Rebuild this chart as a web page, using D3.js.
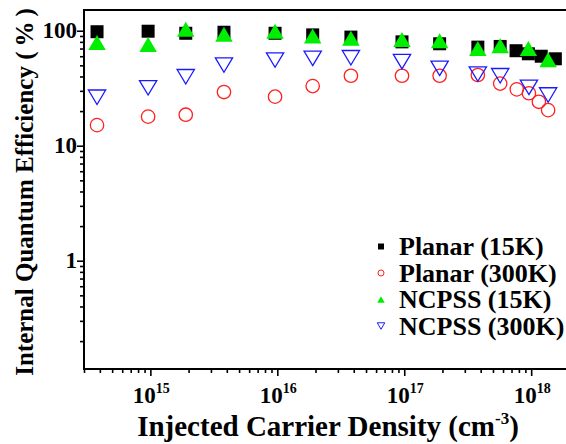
<!DOCTYPE html>
<html>
<head>
<meta charset="utf-8">
<script src="https://cdn.jsdelivr.net/npm/d3@7"></script>
<style>
  body { margin: 0; background: #fff; }
  svg text { font-family: "Liberation Serif", "Times New Roman", serif; font-weight: bold; fill: #000; }
</style>
</head>
<body>
<svg id="chart" width="566" height="444"></svg>
<script>
// Internal quantum efficiency vs injected carrier density
const seriesNames = ["Planar (15K)", "Planar (300K)", "NCPSS (15K)", "NCPSS (300K)"];

const planar15K_n   = [3.8e14, 9.6e14, 1.9e15, 3.8e15, 9.6e15, 1.9e16, 3.8e16, 9.6e16, 1.9e17, 3.8e17, 5.7e17, 7.6e17, 9.5e17, 1.2e18, 1.55e18];
const planar15K_iqe = [98, 99, 95, 97, 95, 92, 88, 80, 77, 72, 73, 67, 63, 60, 57];

const planar300K_n   = [3.8e14, 9.6e14, 1.9e15, 3.8e15, 9.6e15, 1.9e16, 3.8e16, 9.6e16, 1.9e17, 3.8e17, 5.7e17, 7.7e17, 9.6e17, 1.15e18, 1.36e18];
const planar300K_iqe = [15.1, 17.9, 18.6, 29.3, 26.7, 33.0, 40.6, 40.6, 40.6, 41.2, 34.7, 30.9, 28.6, 24.1, 20.4];

const ncpss15K_n   = [3.8e14, 9.6e14, 1.9e15, 3.8e15, 9.6e15, 1.9e16, 3.8e16, 9.6e16, 1.9e17, 3.8e17, 5.7e17, 9.5e17, 1.36e18];
const ncpss15K_iqe = [79, 76, 103, 93, 99, 90, 86, 84, 82, 70, 74, 70, 56];

const ncpss300K_n   = [3.8e14, 9.6e14, 1.9e15, 3.8e15, 9.6e15, 1.9e16, 3.8e16, 9.6e16, 1.9e17, 3.8e17, 5.7e17, 9.6e17, 1.36e18];
const ncpss300K_iqe = [26.4, 31.9, 39.8, 50.3, 55.6, 57.5, 58.2, 53.8, 47.1, 42.0, 40.6, 32.2, 27.6];

const xMajorExponents = [15, 16, 17, 18];
const yMajorLabels = ["1", "10", "100"];

const svg = d3.select("#chart");
const L = 84, R = 568, T = 10, B = 369;

const x = d3.scaleLog().domain([3e14, 1.95e18]).range([L, R]);
const y = d3.scaleLog().domain([0.1144, 151.4]).range([B, T]);

// marker shapes, centred on their bounding boxes
const shapes = {
  square: s => `M${-s/2},${-s/2}h${s}v${s}h${-s}Z`,
  triUp: (w, h) => `M0,${-h/2}L${w/2},${h/2}L${-w/2},${h/2}Z`,
  triDown: (w, h) => `M0,${h/2}L${w/2},${-h/2}L${-w/2},${-h/2}Z`
};

const series = [
  { n: planar15K_n, v: planar15K_iqe, kind: "square", color: "#000" },
  { n: planar300K_n, v: planar300K_iqe, kind: "circle", color: "#ff2020" },
  { n: ncpss15K_n, v: ncpss15K_iqe, kind: "triUp", color: "#00ee00" },
  { n: ncpss300K_n, v: ncpss300K_iqe, kind: "triDown", color: "#1a1aff" }
];

function drawMarker(g, kind, color, big) {
  if (kind === "square") {
    g.append("path").attr("d", shapes.square(big ? 13 : 6)).attr("fill", color);
  } else if (kind === "circle") {
    g.append("circle").attr("r", big ? 6.7 : 3).attr("fill", "none")
      .attr("stroke", color).attr("stroke-width", big ? 1.3 : 1);
  } else if (kind === "triUp") {
    g.append("path").attr("d", big ? shapes.triUp(17.5, 15) : shapes.triUp(7.5, 6.5)).attr("fill", color);
  } else {
    g.append("path").attr("d", big ? shapes.triDown(17.3, 14.5) : shapes.triDown(7.5, 6.5))
      .attr("fill", "none").attr("stroke", color).attr("stroke-width", big ? 1.3 : 1);
  }
}

// data markers
const plot = svg.append("g");
series.forEach(s => {
  s.n.forEach((nv, i) => {
    const g = plot.append("g").attr("transform", `translate(${x(nv)},${y(s.v[i])})`);
    drawMarker(g, s.kind, s.color, true);
  });
});

// ticks: all log ticks in range, majors at powers of ten
const isPow10 = v => Math.abs(Math.log10(v) - Math.round(Math.log10(v))) < 1e-6;
const xTicks = x.ticks();
const yTicks = y.ticks();

const xAxisMinor = d3.axisBottom(x).tickValues(xTicks.filter(v => !isPow10(v))).tickSize(4).tickSizeOuter(0).tickFormat("");
const xAxisMajor = d3.axisBottom(x).tickValues(xMajorExponents.map(e => Math.pow(10, e))).tickSize(7).tickSizeOuter(0).tickFormat("");
const yAxisMinor = d3.axisLeft(y).tickValues(yTicks.filter(v => !isPow10(v))).tickSize(4).tickSizeOuter(0).tickFormat("");
const yAxisMajor = d3.axisLeft(y).tickValues(yMajorLabels.map(Number)).tickSize(7).tickSizeOuter(0).tickFormat("");

[xAxisMinor, xAxisMajor].forEach(a => {
  const g = svg.append("g").attr("transform", `translate(0,${B})`).call(a);
  g.select(".domain").remove();
  g.selectAll(".tick line").attr("stroke", "#000").attr("stroke-width", 1.6);
});
[yAxisMinor, yAxisMajor].forEach(a => {
  const g = svg.append("g").attr("transform", `translate(${L},0)`).call(a);
  g.select(".domain").remove();
  g.selectAll(".tick line").attr("stroke", "#000").attr("stroke-width", 1.6);
});

// frame
svg.append("rect").attr("x", L).attr("y", T).attr("width", R - L).attr("height", B - T)
  .attr("fill", "none").attr("stroke", "#000").attr("stroke-width", 2);

// x tick labels: 10^n
xMajorExponents.forEach(e => {
  const t = svg.append("text").attr("x", x(Math.pow(10, e)) + 1).attr("y", 403)
    .attr("text-anchor", "middle").attr("font-size", 23);
  t.append("tspan").text("10");
  t.append("tspan").attr("font-size", 14).attr("dy", -10).text(String(e));
});

// y tick labels
yMajorLabels.forEach(lbl => {
  svg.append("text").attr("x", 77).attr("y", y(+lbl) + 7.5)
    .attr("text-anchor", "end").attr("font-size", 23).text(lbl);
});

// axis titles
const xt = svg.append("text").attr("x", 328).attr("y", 436).attr("text-anchor", "middle").attr("font-size", 29);
xt.append("tspan").text("Injected Carrier Density (cm");
xt.append("tspan").attr("font-size", 17).attr("dy", -12).text("-3");
xt.append("tspan").attr("dy", 12).text(")");

svg.append("text").attr("transform", "translate(33,192) rotate(-90)")
  .attr("text-anchor", "middle").attr("font-size", 25)
  .text("Internal Quantum Efficiency (\u2009%\u2009)");

// legend
const legendY = [246.5, 273, 299.5, 326];
series.forEach((s, i) => {
  const g = svg.append("g").attr("transform", `translate(381,${legendY[i]})`);
  drawMarker(g, s.kind, s.color, false);
  svg.append("text").attr("x", 399).attr("y", legendY[i] + 8.5).attr("font-size", 26).text(seriesNames[i]);
});
</script>
</body>
</html>
